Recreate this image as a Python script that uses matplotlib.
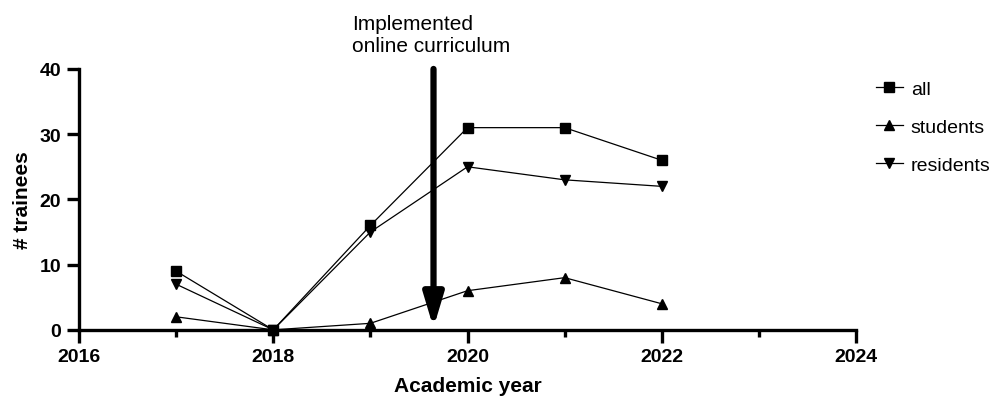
import matplotlib.pyplot as plt
from matplotlib.ticker import MultipleLocator

plt.rcParams['font.family'] = ['Liberation Sans', 'DejaVu Sans']

years = [2017, 2018, 2019, 2020, 2021, 2022]
all_trainees = [9, 0, 16, 31, 31, 26]
students = [2, 0, 1, 6, 8, 4]
residents = [7, 0, 15, 25, 23, 22]

intervention_year = 2019.65
arrow_top = 40
arrow_tip = 0.3

fig = plt.figure(figsize=(10, 4.02), dpi=100)
ax = fig.add_axes([0.079, 0.177, 0.777, 0.649])

ax.plot(years, all_trainees, color='black', lw=0.9, marker='s', ms=7, label='all', clip_on=False)
ax.plot(years, students, color='black', lw=0.9, marker='^', ms=7, label='students', clip_on=False)
ax.plot(years, residents, color='black', lw=0.9, marker='v', ms=7, label='residents', clip_on=False)

ax.annotate('', xy=(intervention_year, arrow_tip), xytext=(intervention_year, arrow_top),
            arrowprops=dict(arrowstyle='-|>,head_length=2.0,head_width=0.6', lw=4.5,
                            color='black', shrinkA=0, shrinkB=0), annotation_clip=False)
ax.text(2018.81, 45.3, 'Implemented\nonline curriculum', fontsize=15, va='center', ha='left',
        linespacing=1.25)

ax.set_xlim(2016, 2024)
ax.set_ylim(0, 40)
ax.xaxis.set_major_locator(MultipleLocator(2))
ax.xaxis.set_minor_locator(MultipleLocator(1))
ax.yaxis.set_major_locator(MultipleLocator(10))

for s in ['top', 'right']:
    ax.spines[s].set_visible(False)
for s in ['left', 'bottom']:
    ax.spines[s].set_linewidth(2.4)

ax.tick_params(axis='both', which='major', width=2.4, length=9, labelsize=14, pad=4)
ax.tick_params(axis='x', which='minor', width=2.4, length=5)
for lbl in ax.get_xticklabels() + ax.get_yticklabels():
    lbl.set_fontweight('bold')

ax.set_xlabel('Academic year', fontsize=15, fontweight='bold', labelpad=8)
ax.set_ylabel('# trainees', fontsize=15, fontweight='bold', labelpad=5)

ax.legend(loc='upper left', bbox_to_anchor=(1.003, 1.025), frameon=False, fontsize=14,
          handlelength=1.4, handletextpad=0.4, labelspacing=1.05)

fig.savefig('out.png', dpi=100)
